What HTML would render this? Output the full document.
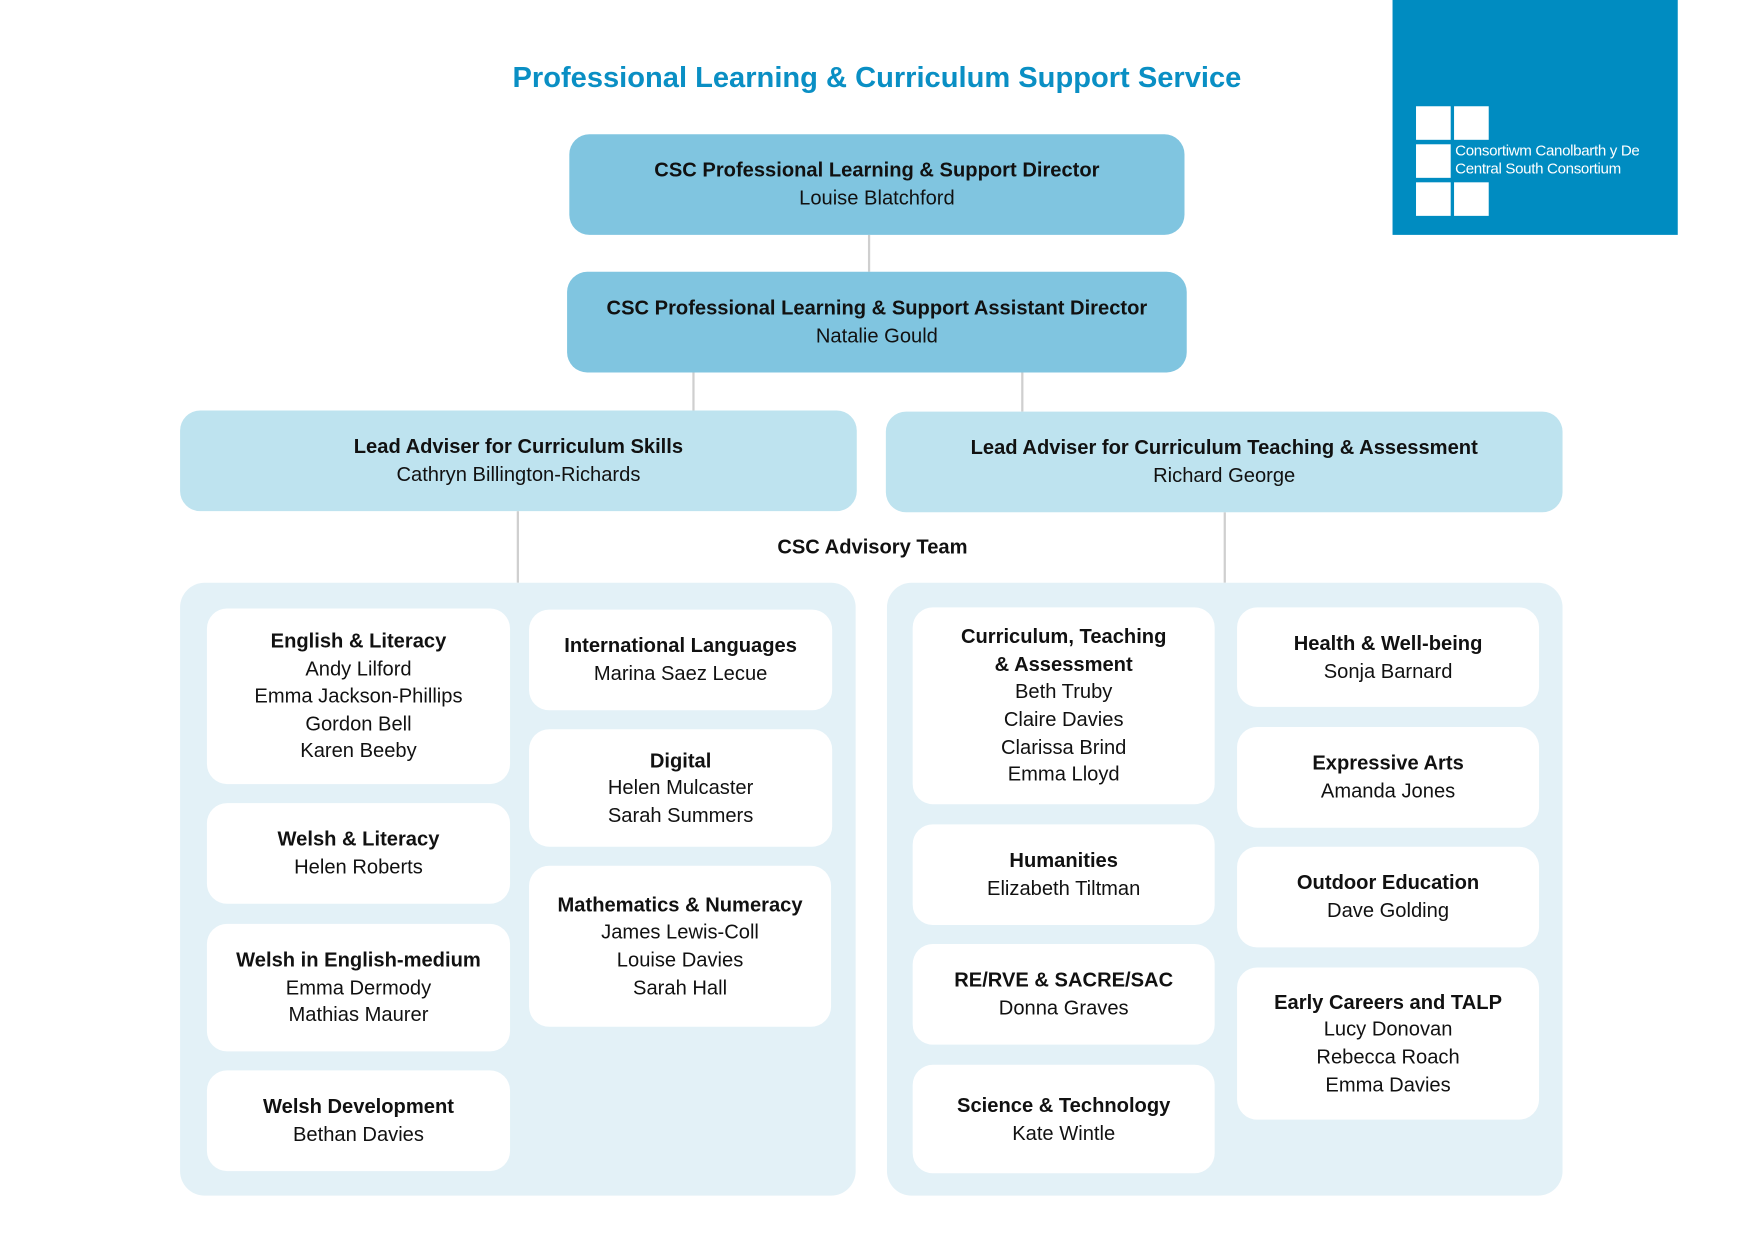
<!DOCTYPE html>
<html><head><meta charset="utf-8"><style>
html,body{margin:0;padding:0;background:#fff;width:1754px;height:1240px;overflow:hidden}
#c{position:absolute;left:0;top:0;width:1570px;height:1110px;transform:scale(1.1185);transform-origin:0 0;font-family:"Liberation Sans",sans-serif;color:#111}
.b{position:absolute;display:flex;flex-direction:column;justify-content:center;align-items:center;text-align:center;font-size:18px;line-height:24.6px;box-sizing:border-box}
.b b{font-weight:bold}
.t1{background:#80c5e0;border-radius:18px}
.t2{background:#bee3ef;border-radius:18px}
.p{position:absolute;background:#e3f1f7;border-radius:22px}
.w{background:#fff;border-radius:18px}
.l{position:absolute;background:#cfcfcf;width:2px}
.sq{position:absolute;background:#fff;width:31px;height:30px}
</style></head><body><div id="c">
<div style="position:absolute;left:0;width:1568px;top:54px;text-align:center;color:#0a8fc4;font-weight:bold;font-size:26px">Professional Learning &amp; Curriculum Support Service</div>
<div style="position:absolute;left:1245px;top:0;width:255px;height:210px;background:#008cc1"></div>
<div class="sq" style="left:1266px;top:95px"></div><div class="sq" style="left:1300px;top:95px"></div>
<div class="sq" style="left:1266px;top:129px"></div>
<div class="sq" style="left:1266px;top:163px"></div><div class="sq" style="left:1300px;top:163px"></div>
<div style="position:absolute;left:1301px;top:127px;color:#fff;font-size:13.5px;line-height:15.5px;letter-spacing:-0.3px;white-space:nowrap">Consortiwm Canolbarth y De<br>Central South Consortium</div>

<div class="l" style="left:776px;top:210px;height:33px"></div>
<div class="l" style="left:619px;top:333px;height:35px"></div>
<div class="l" style="left:913px;top:333px;height:35px"></div>
<div class="l" style="left:462px;top:457px;height:64px"></div>
<div class="l" style="left:1094px;top:458px;height:63px"></div>

<div class="b t1" style="left:509px;top:120px;width:550px;height:90px"><b>CSC Professional Learning &amp; Support Director</b>Louise Blatchford</div>
<div class="b t1" style="left:507px;top:243px;width:554px;height:90px"><b>CSC Professional Learning &amp; Support Assistant Director</b>Natalie Gould</div>
<div class="b t2" style="left:161px;top:367px;width:605px;height:90px"><b>Lead Adviser for Curriculum Skills</b>Cathryn Billington-Richards</div>
<div class="b t2" style="left:792px;top:368px;width:605px;height:90px"><b>Lead Adviser for Curriculum Teaching &amp; Assessment</b>Richard George</div>
<div class="b" style="left:580px;top:477px;width:400px;height:24px"><b>CSC Advisory Team</b></div>

<div class="p" style="left:161px;top:521px;width:604px;height:548px"></div>
<div class="p" style="left:793px;top:521px;width:604px;height:548px"></div>

<div class="b w" style="left:185px;top:544px;width:271px;height:157px"><b>English &amp; Literacy</b>Andy Lilford<br>Emma Jackson-Phillips<br>Gordon Bell<br>Karen Beeby</div>
<div class="b w" style="left:185px;top:718px;width:271px;height:90px"><b>Welsh &amp; Literacy</b>Helen Roberts</div>
<div class="b w" style="left:185px;top:826px;width:271px;height:114px"><b>Welsh in English-medium</b>Emma Dermody<br>Mathias Maurer</div>
<div class="b w" style="left:185px;top:957px;width:271px;height:90px"><b>Welsh Development</b>Bethan Davies</div>
<div class="b w" style="left:473px;top:545px;width:271px;height:90px"><b>International Languages</b>Marina Saez Lecue</div>
<div class="b w" style="left:473px;top:652px;width:271px;height:105px"><b>Digital</b>Helen Mulcaster<br>Sarah Summers</div>
<div class="b w" style="left:473px;top:774px;width:270px;height:144px"><b>Mathematics &amp; Numeracy</b>James Lewis-Coll<br>Louise Davies<br>Sarah Hall</div>

<div class="b w" style="left:816px;top:543px;width:270px;height:176px"><b>Curriculum, Teaching<br>&amp; Assessment</b>Beth Truby<br>Claire Davies<br>Clarissa Brind<br>Emma Lloyd</div>
<div class="b w" style="left:816px;top:737px;width:270px;height:90px"><b>Humanities</b>Elizabeth Tiltman</div>
<div class="b w" style="left:816px;top:844px;width:270px;height:90px"><b>RE/RVE &amp; SACRE/SAC</b>Donna Graves</div>
<div class="b w" style="left:816px;top:952px;width:270px;height:97px"><b>Science &amp; Technology</b>Kate Wintle</div>
<div class="b w" style="left:1106px;top:543px;width:270px;height:89px"><b>Health &amp; Well-being</b>Sonja Barnard</div>
<div class="b w" style="left:1106px;top:650px;width:270px;height:90px"><b>Expressive Arts</b>Amanda Jones</div>
<div class="b w" style="left:1106px;top:757px;width:270px;height:90px"><b>Outdoor Education</b>Dave Golding</div>
<div class="b w" style="left:1106px;top:865px;width:270px;height:136px"><b>Early Careers and TALP</b>Lucy Donovan<br>Rebecca Roach<br>Emma Davies</div>
</div></body></html>
